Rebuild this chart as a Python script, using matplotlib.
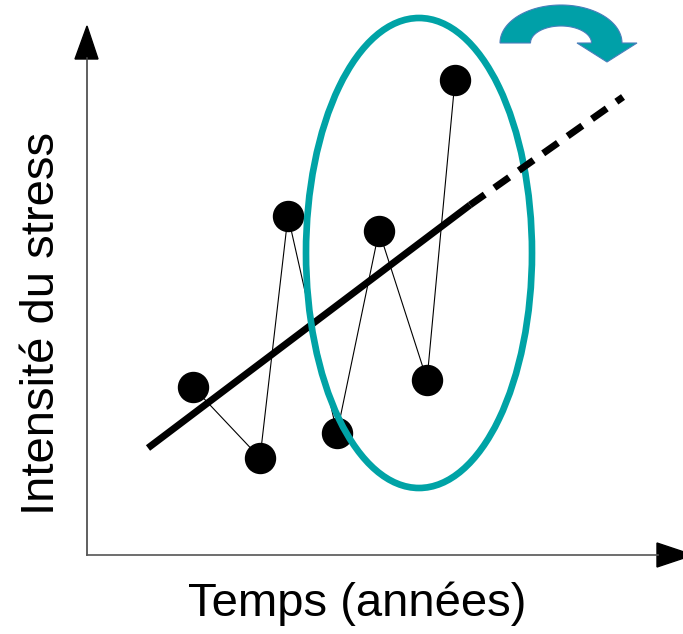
import matplotlib
matplotlib.use("Agg")
import matplotlib.pyplot as plt
import numpy as np
from matplotlib.patches import Ellipse, Polygon

# schematic data (origin = axes corner, units ~ pixels)
temps = [106, 173, 201, 250, 292, 340, 368]
stress = [168, 97, 339, 122, 324, 175, 475]
trend_x = [61, 383]
trend_y = [107, 350]
proj_x = [383, 536]
proj_y = [350, 458]

teal = '#00a3a6'

fig = plt.figure(figsize=(6.83, 6.34), dpi=100)
ax = fig.add_axes([0, 0, 1, 1])
ax.set_xlim(-87, 596)
ax.set_ylim(-79, 555)
ax.axis('off')

# axes with arrow heads
ax.plot([0, 0], [0, 497], color='#444444', lw=1.2, clip_on=False)
ax.plot([0, 571], [0, 0], color='#555555', lw=1.2, clip_on=False)
ax.add_patch(Polygon([[-12, 496], [11, 496], [0, 529]], closed=True,
                     color='black', clip_on=False))
ax.add_patch(Polygon([[570, -12], [570, 12], [606, 0]], closed=True,
                     color='black', clip_on=False))

# trend line (observed part solid, projection dashed on top of the ellipse)
ax.plot(trend_x, trend_y, color='black', lw=5, solid_capstyle='butt')
ax.plot(proj_x, proj_y, color='black', lw=5, dashes=(2.6, 1.7),
        dash_capstyle='butt', zorder=6)

# measurements
ax.plot(temps, stress, color='black', lw=0.8, marker='o', ms=21.6,
        markerfacecolor='black', markeredgecolor='black')

# highlighted period (drawn above the points)
ax.add_patch(Ellipse((332, 302), 226, 470, fill=False, edgecolor=teal,
                     lw=4.8, zorder=5))

# curved arrow
cx, cy = 474, 512
t = np.linspace(np.pi, 0, 60)
outer = np.column_stack([cx + 61 * np.cos(t), cy + 38 * np.sin(t)])
inner = np.column_stack([cx + 30.5 * np.cos(t[::-1]), cy + 17 * np.sin(t[::-1])])
head = np.array([[550, 512], [520, 493], [490, 512]])
shape = np.vstack([outer, head, inner])
ax.add_patch(Polygon(shape, closed=True, facecolor='#00a0a8',
                     edgecolor='#4a7ebb', lw=0.8))

ax.text(270, -49, 'Temps (années)', fontsize=34, family='Liberation Sans',
        ha='center', va='center')
ax.text(-45, 232, 'Intensité du stress', fontsize=34, family='Liberation Sans',
        ha='center', va='center', rotation=90)

fig.savefig('out.png', dpi=100)
